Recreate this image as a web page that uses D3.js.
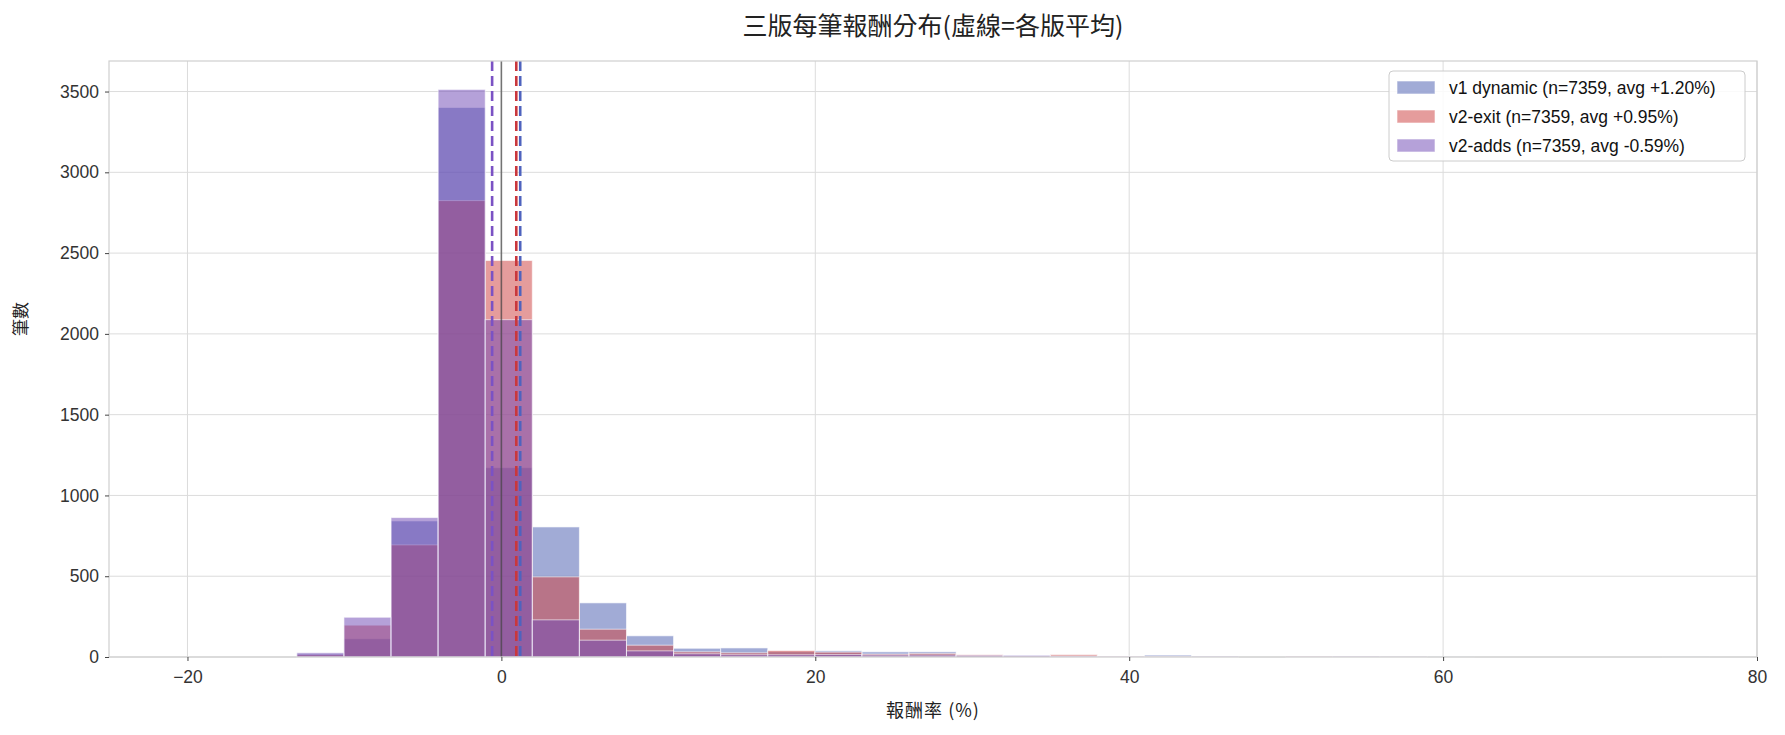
<!DOCTYPE html>
<html lang="zh-Hant">
<head>
<meta charset="UTF-8">
<title>三版每筆報酬分布</title>
<script src="https://d3js.org/d3.v7.min.js"></script>
<style>
  html, body { margin: 0; padding: 0; background: #fff; overflow: hidden; }
  svg { display: block; font-family: "Liberation Sans", "Noto Sans CJK TC", sans-serif; }
  .grid line { stroke: #dcdcdc; stroke-width: 1; }
  .tick text { fill: #333; font-size: 17.5px; }
  .cjk { font-family: "Noto Sans CJK TC", sans-serif; }
</style>
</head>
<body>
<svg id="chart"></svg>
<script>
// --- data ---
const binEdges = [-13.03, -10.03, -7.03, -4.03, -1.03, 1.97, 4.97, 7.97, 10.97, 13.97,
                  16.97, 19.97, 22.97, 25.97, 28.97, 31.97, 34.97, 37.97, 40.97, 43.97,
                  46.97, 49.97, 52.97, 55.97, 58.97, 61.97, 64.97, 67.97, 70.97, 73.97, 76.97];

const v1Counts   = [20, 113, 842, 3401, 1172, 805, 335, 131, 54, 56, 33, 38, 32, 32, 12, 10, 8, 3, 12, 5, 0, 2, 4, 2, 1, 0, 0, 0, 0, 1];
const exitCounts = [14, 197, 694, 2825, 2454, 496, 172, 73, 32, 26, 40, 30, 18, 22, 14, 6, 15, 6, 4, 2, 0, 5, 3, 1, 0, 0, 0, 0, 0, 0];
const addsCounts = [26, 246, 863, 3513, 2088, 230, 104, 38, 20, 14, 14, 15, 12, 12, 10, 10, 6, 3, 4, 4, 0, 2, 4, 2, 0, 0, 0, 0, 0, 0];

const seriesNames = ["v1 dynamic (n=7359, avg +1.20%)", "v2-exit (n=7359, avg +0.95%)", "v2-adds (n=7359, avg -0.59%)"];
const seriesMeans = [1.20, 0.95, -0.59];
const seriesFill  = ["#4b5db1", "#cd4141", "#714bb7"];
const seriesLine  = ["#4f63be", "#c9373c", "#7b52c4"];

const xTicks = [-20, 0, 20, 40, 60, 80];
const yTicks = [0, 500, 1000, 1500, 2000, 2500, 3000, 3500];

// --- layout ---
const W = 1785, H = 735;
const margin = { top: 61, right: 28, bottom: 78, left: 109 };
const innerW = W - margin.left - margin.right;
const innerH = H - margin.top - margin.bottom;

const svg = d3.select("#chart").attr("width", W).attr("height", H);
const g = svg.append("g").attr("transform", `translate(${margin.left},${margin.top})`);

const x = d3.scaleLinear().domain([-25, 80]).range([0, innerW]);
const y = d3.scaleLinear().domain([0, 3689]).range([innerH, 0]);
const fmtMinus = d => d3.format("d")(d).replace("-", "\u2212");

// grid
g.append("g").attr("class", "grid")
  .selectAll("line").data(yTicks).join("line")
  .attr("x1", 0).attr("x2", innerW)
  .attr("y1", d => y(d)).attr("y2", d => y(d));
g.append("g").attr("class", "grid")
  .selectAll("line").data(xTicks).join("line")
  .attr("y1", 0).attr("y2", innerH)
  .attr("x1", d => x(d)).attr("x2", d => x(d));

// bars, drawn in series order so later ones sit on top
const allCounts = [v1Counts, exitCounts, addsCounts];
allCounts.forEach((counts, si) => {
  const bins = counts.map((c, i) => ({ x0: binEdges[i], x1: binEdges[i + 1], c }))
    .filter(b => b.c > 0);
  g.append("g")
    .selectAll("rect").data(bins).join("rect")
    .attr("x", d => x(d.x0))
    .attr("width", d => x(d.x1) - x(d.x0))
    .attr("y", d => y(d.c))
    .attr("height", d => y(0) - y(d.c))
    .attr("fill", seriesFill[si])
    .attr("fill-opacity", 0.52)
    .attr("stroke", "#fff")
    .attr("stroke-opacity", 0.6)
    .attr("stroke-width", 1);
});

// zero line
g.append("line")
  .attr("x1", x(0)).attr("x2", x(0))
  .attr("y1", 0).attr("y2", innerH)
  .attr("stroke", "#444").attr("stroke-opacity", 0.7).attr("stroke-width", 1.6);

// mean lines
g.append("g")
  .selectAll("line").data(seriesMeans).join("line")
  .attr("x1", d => x(d)).attr("x2", d => x(d))
  .attr("y1", 0).attr("y2", innerH)
  .attr("stroke", (d, i) => seriesLine[i])
  .attr("stroke-width", 2.6)
  .attr("stroke-dasharray", "10,5");

// frame
g.append("rect")
  .attr("width", innerW).attr("height", innerH)
  .attr("fill", "none").attr("stroke", "#cfcfcf").attr("stroke-width", 1.2);

// axes
const xAxis = g.append("g").attr("transform", `translate(0,${innerH})`)
  .call(d3.axisBottom(x).tickValues(xTicks).tickFormat(fmtMinus).tickSize(4).tickPadding(10));
const yAxis = g.append("g")
  .call(d3.axisLeft(y).tickValues(yTicks).tickFormat(d3.format("d")).tickSize(4).tickPadding(6));
[xAxis, yAxis].forEach(a => {
  a.select(".domain").remove();
  a.selectAll(".tick line").attr("stroke", "#444");
  a.selectAll(".tick text").attr("font-family", "Liberation Sans, sans-serif");
});

// labels
svg.append("text").attr("class", "cjk")
  .attr("x", margin.left + innerW / 2).attr("y", 35)
  .attr("text-anchor", "middle")
  .attr("font-size", 25).attr("fill", "#222")
  .text("三版每筆報酬分布(虛線=各版平均)");

svg.append("text").attr("class", "cjk")
  .attr("x", margin.left + innerW / 2).attr("y", H - 18)
  .attr("text-anchor", "middle")
  .attr("font-size", 18).attr("letter-spacing", 1).attr("fill", "#222")
  .text("報酬率 (%)");

svg.append("text").attr("class", "cjk")
  .attr("transform", `translate(27,${margin.top + innerH / 2 - 40}) rotate(-90)`)
  .attr("text-anchor", "middle")
  .attr("font-size", 17).attr("fill", "#222")
  .text("筆數");

// legend
const lg = svg.append("g").attr("transform", "translate(1389,71)");
lg.append("rect")
  .attr("width", 356).attr("height", 90).attr("rx", 4)
  .attr("fill", "#fff").attr("fill-opacity", 0.85)
  .attr("stroke", "#cccccc");
seriesNames.forEach((name, i) => {
  const row = lg.append("g").attr("transform", `translate(8,${10 + i * 29})`);
  row.append("rect")
    .attr("width", 38).attr("height", 13)
    .attr("fill", seriesFill[i]).attr("fill-opacity", 0.52)
    .attr("stroke", "#fff").attr("stroke-opacity", 0.6);
  row.append("text")
    .attr("x", 52).attr("y", 12.5)
    .attr("font-size", 17.5).attr("fill", "#111")
    .text(name);
});
</script>
</body>
</html>
